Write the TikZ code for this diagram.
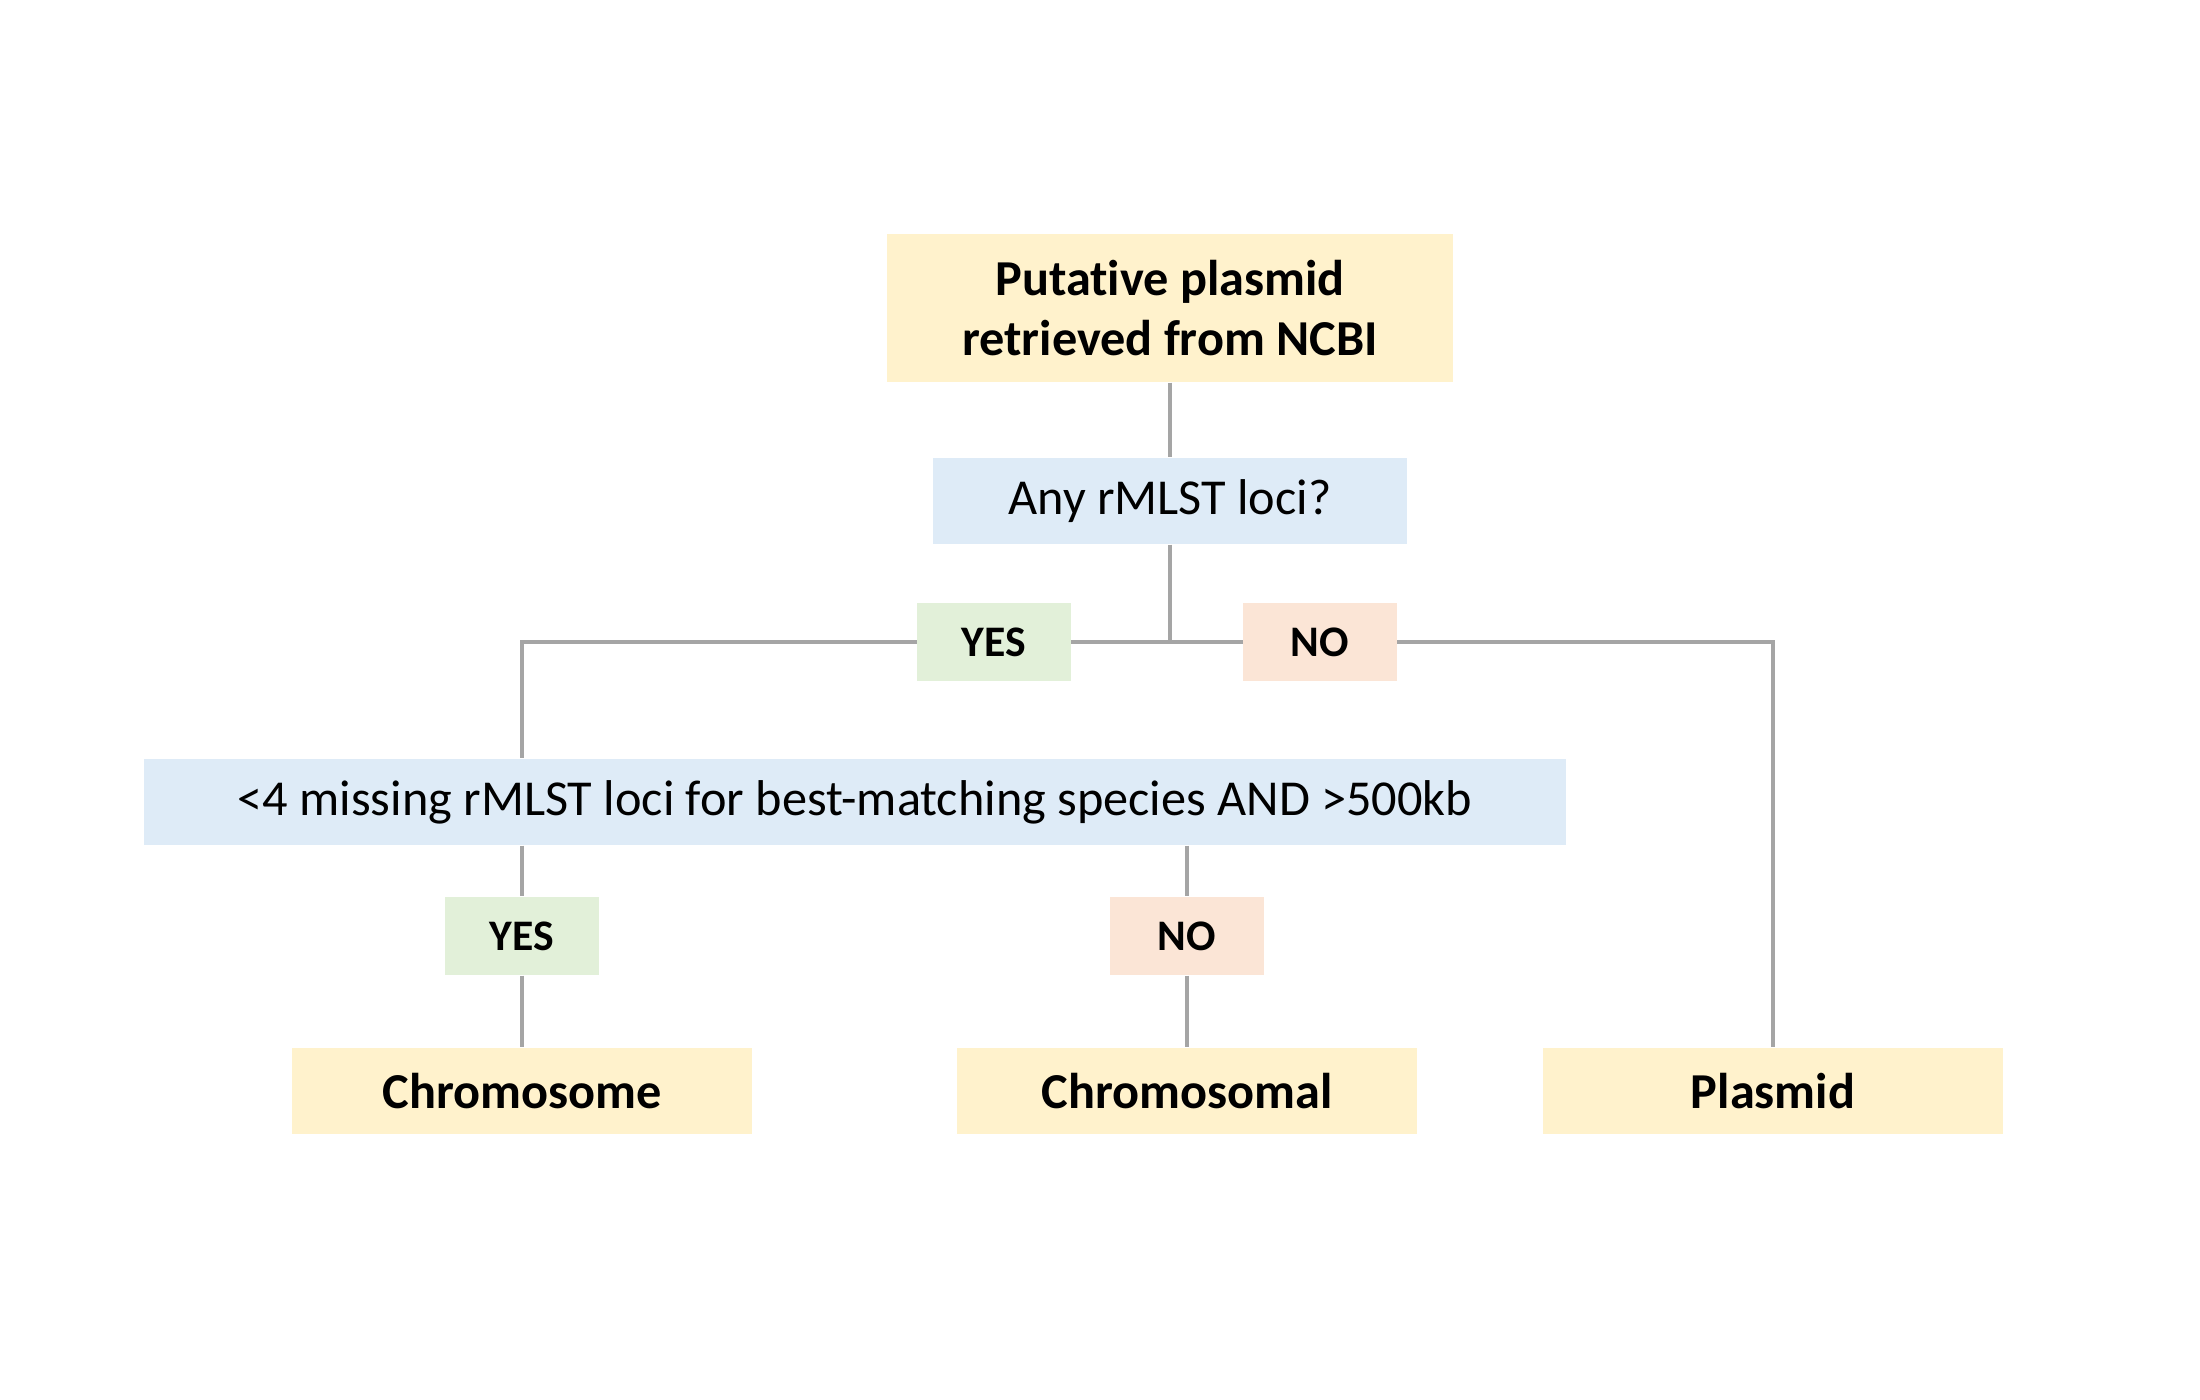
\documentclass[tikz,border=0pt]{standalone}
\usepackage{fontspec}
\setmainfont[Ligatures=NoCommon]{Carlito}
\definecolor{startyellow}{HTML}{FFF2CC}
\definecolor{askblue}{HTML}{DEEBF7}
\definecolor{yesgreen}{HTML}{E2F0D9}
\definecolor{nopeach}{HTML}{FBE5D6}
\definecolor{linkgray}{HTML}{A5A5A5}

\begin{document}
\begin{tikzpicture}[x=0.01cm, y=-0.01cm,
    box/.style={inner sep=0pt, align=center, font=\fontsize{14.3}{17}\selectfont},
    result/.style={box, fill=startyellow, minimum width=4.6cm, minimum height=0.86cm,
                   font=\fontsize{14.3}{17}\selectfont\bfseries},
    ask/.style={box, fill=askblue, minimum height=0.86cm},
    answer/.style={inner sep=0pt, minimum width=1.53cm, minimum height=0.78cm,
                   font=\fontsize{12.4}{15}\selectfont\bfseries},
    yes/.style={answer, fill=yesgreen},
    no/.style={answer, fill=nopeach},
    link/.style={draw=linkgray, line width=1.1pt}]
    \useasboundingbox (0, 0) rectangle (2200, 1400);

    \node [result, minimum width=5.66cm, minimum height=1.48cm] (putative) at (1170, 308)
          {Putative plasmid\\retrieved from NCBI};
    \node [ask, minimum width=4.73cm] (anyloci) at (1170, 501) {Any rMLST loci?};
    \coordinate (split) at (1170, 642);
    \node [yes] (yes1) at (994, 642) {YES};
    \node [no] (no1) at (1320, 642) {NO};
    \node [ask, minimum width=14.21cm] (missing) at (855, 802)
          {<4 missing rMLST loci for best-matching species AND >500kb};
    \node [result] (chrome) at (522, 1091) {Chromosome};
    \node [result] (chromal) at (1187, 1091) {Chromosomal};
    \node [result] (plasmid) at (1773, 1091) {Plasmid};
    \node [yes] (yes2) at (522, 936) {YES};
    \node [no] (no2) at (1187, 936) {NO};

    \draw [link] (putative) -- (anyloci);
    \draw [link] (anyloci) -- (split);
    \draw [link] (split) -- (yes1.east);
    \draw [link] (yes1.west) -| (chrome |- missing.north);
    \draw [link] (split) -- (no1.west);
    \draw [link] (no1.east) -| (plasmid);
    \draw [link] (yes2 |- missing.south) -- (yes2);
    \draw [link] (yes2) -- (chrome);
    \draw [link] (no2 |- missing.south) -- (no2);
    \draw [link] (no2) -- (chromal);

\end{tikzpicture}
\end{document}
